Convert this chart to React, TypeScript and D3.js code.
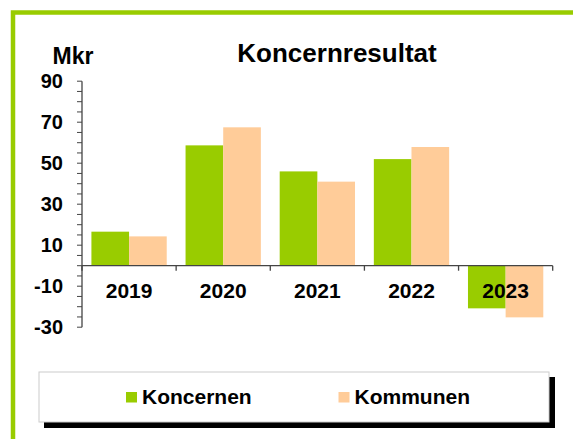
import React from 'react';
import * as d3 from 'd3';

const years = ['2019', '2020', '2021', '2022', '2023'];
const series = ['Koncernen', 'Kommunen'];
const koncernen = [16.6, 58.7, 46, 52, -20.8];
const kommunen = [14.3, 67.5, 41, 57.9, -25.2];
const yLabels = [90, 70, 50, 30, 10, -10, -30];
const colors = ['#99cc00', '#ffcc99'];

const W = 573;
const H = 439;
const FONT = 'Arial, "Liberation Sans", Helvetica, sans-serif';
const margin = { left: 82, right: 20.3, top: 81.2, bottom: 111.8 };

const App = () => {
  const x = d3.scaleBand<string>()
    .domain(years)
    .range([margin.left, W - margin.right])
    .paddingInner(0.2)
    .paddingOuter(0.1);
  const xs = d3.scaleBand<string>().domain(series).range([0, x.bandwidth()]);
  const y = d3.scaleLinear().domain([-30, 90]).range([H - margin.bottom, margin.top]);
  const values = [koncernen, kommunen];
  const minorTicks = d3.range(-30, 91, 5);
  const step = x.step();
  const catTicks = d3.range(0, years.length + 1).map(i => margin.left + i * step);

  return (
    <div style={{ position: 'absolute', left: 0, top: 0 }}>
      <svg width={W} height={H} style={{ display: 'block', background: '#fff' }}>
        {/* green frame */}
        <rect x={13} y={12.5} width={700} height={600} fill="none" stroke="#99cc00" strokeWidth={4.5} />

        <text x={337} y={62} textAnchor="middle" fontFamily={FONT} fontWeight="bold" fontSize={26}>Koncernresultat</text>
        <text x={52.5} y={63.5} fontFamily={FONT} fontWeight="bold" fontSize={23}>Mkr</text>

        {/* bars */}
        {series.map((s, si) => years.map((yr, i) => {
          const v = values[si][i];
          return (
            <rect key={s + yr}
              x={(x(yr) as number) + (xs(s) as number)}
              y={y(Math.max(0, v))}
              width={xs.bandwidth()}
              height={Math.abs(y(v) - y(0))}
              fill={colors[si]} />
          );
        }))}

        {/* y axis */}
        <line x1={margin.left} x2={margin.left} y1={y(-30)} y2={y(90)} stroke="#444" strokeWidth={1.3} />
        {minorTicks.map(t => (
          <line key={t} x1={margin.left - 5} x2={margin.left} y1={y(t)} y2={y(t)} stroke="#444" strokeWidth={1} />
        ))}
        {yLabels.map(t => (
          <text key={t} x={63} y={y(t)} dy="0.36em" textAnchor="end" fontFamily={FONT} fontWeight="bold" fontSize={20}>{t}</text>
        ))}

        {/* x axis */}
        <line x1={margin.left} x2={W - margin.right} y1={y(0)} y2={y(0)} stroke="#444" strokeWidth={1.3} />
        {catTicks.map((cx, i) => (
          <line key={i} x1={cx} x2={cx} y1={y(0)} y2={y(0) + 5} stroke="#444" strokeWidth={1.3} />
        ))}
        {years.map(yr => (
          <text key={yr} x={(x(yr) as number) + x.bandwidth() / 2} y={297.5} textAnchor="middle" fontFamily={FONT} fontWeight="bold" fontSize={21}>{yr}</text>
        ))}

        {/* legend */}
        <rect x={44} y={377} width={511} height={51} fill="#000" />
        <rect x={39} y={372} width={510} height={50} fill="#fff" stroke="#ccc" strokeWidth={1} />
        {series.map((s, si) => {
          const lx = si === 0 ? 126 : 338.5;
          return (
            <g key={s}>
              <rect x={lx} y={392} width={11} height={10.5} fill={colors[si]} />
              <text x={lx + 16} y={403.5} fontFamily={FONT} fontWeight="bold" fontSize={21}>{s}</text>
            </g>
          );
        })}
      </svg>
    </div>
  );
};

export default App;
